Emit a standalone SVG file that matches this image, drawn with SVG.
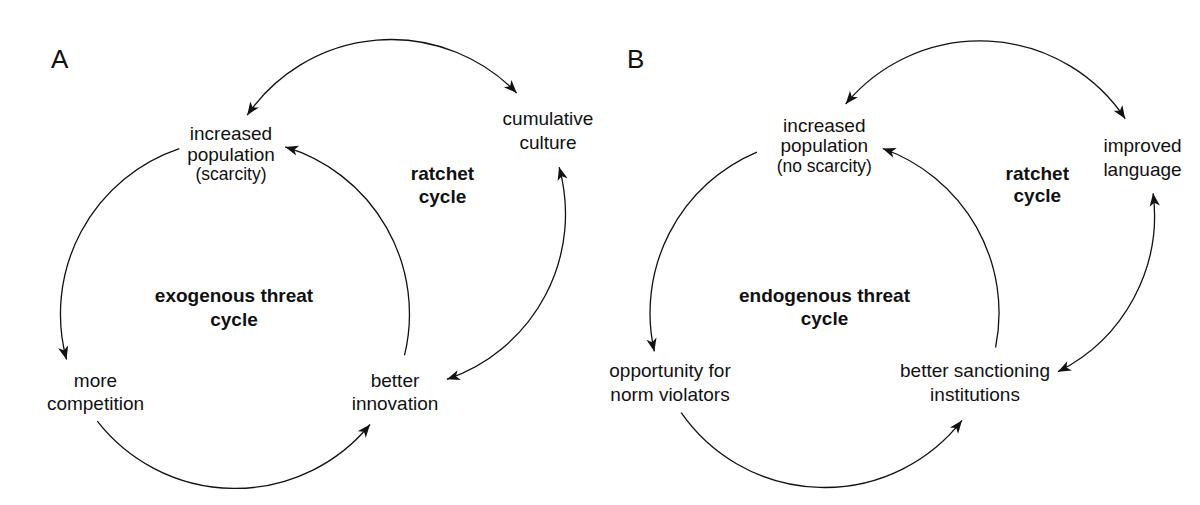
<svg xmlns="http://www.w3.org/2000/svg" width="1200" height="505" viewBox="0 0 1200 505">
<style>
text{font-family:"Liberation Sans",Arial,Helvetica,sans-serif;fill:#111;text-anchor:middle}
.lbl{font-size:19px}
.sub{font-size:17.5px}
.bold{font-size:19px;font-weight:bold}
.panel{font-size:26px;text-anchor:start}
.arc{fill:none;stroke:#111;stroke-width:1.3}
.one{marker-end:url(#ah)}
.two{marker-start:url(#ah);marker-end:url(#ah)}
</style>
<defs>
<marker id="ah" viewBox="-14 -6 15 12" refX="0" refY="0" markerWidth="15" markerHeight="12" markerUnits="userSpaceOnUse" orient="auto-start-reverse" overflow="visible">
<path d="M0,0 L-13,-5.2 L-9.5,0 L-13,5.2 Z" fill="#111"/>
</marker>
</defs>
<rect width="1200" height="505" fill="#fff"/>

<g id="connectors">
<!-- Panel A main cycle -->
<path class="arc one" d="M179.3,148.6 A174.5,174.5 0 0 0 66.5,359.5"/>
<path class="arc one" d="M97.3,421.2 A174.5,174.5 0 0 0 370,424.5"/>
<path class="arc one" d="M404.5,355.3 A174.5,174.5 0 0 0 285.2,146.9"/>
<!-- Panel A ratchet -->
<path class="arc two" d="M247.2,115.2 A174.5,174.5 0 0 1 516.7,93"/>
<path class="arc two" d="M559.1,167.1 A174.5,174.5 0 0 1 446.9,379.3"/>
<!-- Panel B main cycle -->
<path class="arc one" d="M756.9,152.1 A174.5,174.5 0 0 0 654.3,351.4"/>
<path class="arc one" d="M681.2,412.6 A174.5,174.5 0 0 0 962,420.4"/>
<path class="arc one" d="M995.6,347.5 A174.5,174.5 0 0 0 882.7,148.5"/>
<!-- Panel B ratchet -->
<path class="arc two" d="M845.7,104 A174.5,174.5 0 0 1 1125.2,118.7"/>
<path class="arc two" d="M1153.1,193.3 A174.5,174.5 0 0 1 1057.9,371.7"/>
</g>

<g id="panelA-label"><text class="panel" x="51" y="68">A</text></g>
<g id="A-increased-population">
<text class="lbl" x="231" y="140">increased</text>
<text class="lbl" x="231" y="160.7">population</text>
<text class="sub" x="231" y="180">(scarcity)</text>
</g>
<g id="A-cumulative-culture">
<text class="lbl" x="548" y="125">cumulative</text>
<text class="lbl" x="548" y="149">culture</text>
</g>
<g id="A-ratchet-cycle">
<text class="bold" x="442.5" y="180">ratchet</text>
<text class="bold" x="442.5" y="202.5">cycle</text>
</g>
<g id="A-exogenous-cycle">
<text class="bold" x="234" y="302">exogenous threat</text>
<text class="bold" x="234" y="325.5">cycle</text>
</g>
<g id="A-more-competition">
<text class="lbl" x="95.5" y="386.7">more</text>
<text class="lbl" x="95.5" y="410">competition</text>
</g>
<g id="A-better-innovation">
<text class="lbl" x="395" y="386.7">better</text>
<text class="lbl" x="395" y="410">innovation</text>
</g>

<g id="panelB-label"><text class="panel" x="627" y="68">B</text></g>
<g id="B-increased-population">
<text class="lbl" x="824.3" y="131.7">increased</text>
<text class="lbl" x="824.3" y="152.3">population</text>
<text class="sub" x="824.3" y="171.7">(no scarcity)</text>
</g>
<g id="B-improved-language">
<text class="lbl" x="1142.5" y="151.7">improved</text>
<text class="lbl" x="1142.5" y="176">language</text>
</g>
<g id="B-ratchet-cycle">
<text class="bold" x="1037.3" y="179.5">ratchet</text>
<text class="bold" x="1037.3" y="202">cycle</text>
</g>
<g id="B-endogenous-cycle">
<text class="bold" x="824.5" y="301.7">endogenous threat</text>
<text class="bold" x="824.5" y="325">cycle</text>
</g>
<g id="B-opportunity">
<text class="lbl" x="670" y="377">opportunity for</text>
<text class="lbl" x="670" y="400.7">norm violators</text>
</g>
<g id="B-better-sanctioning">
<text class="lbl" x="975" y="376.7">better sanctioning</text>
<text class="lbl" x="975" y="400.7">institutions</text>
</g>
</svg>
